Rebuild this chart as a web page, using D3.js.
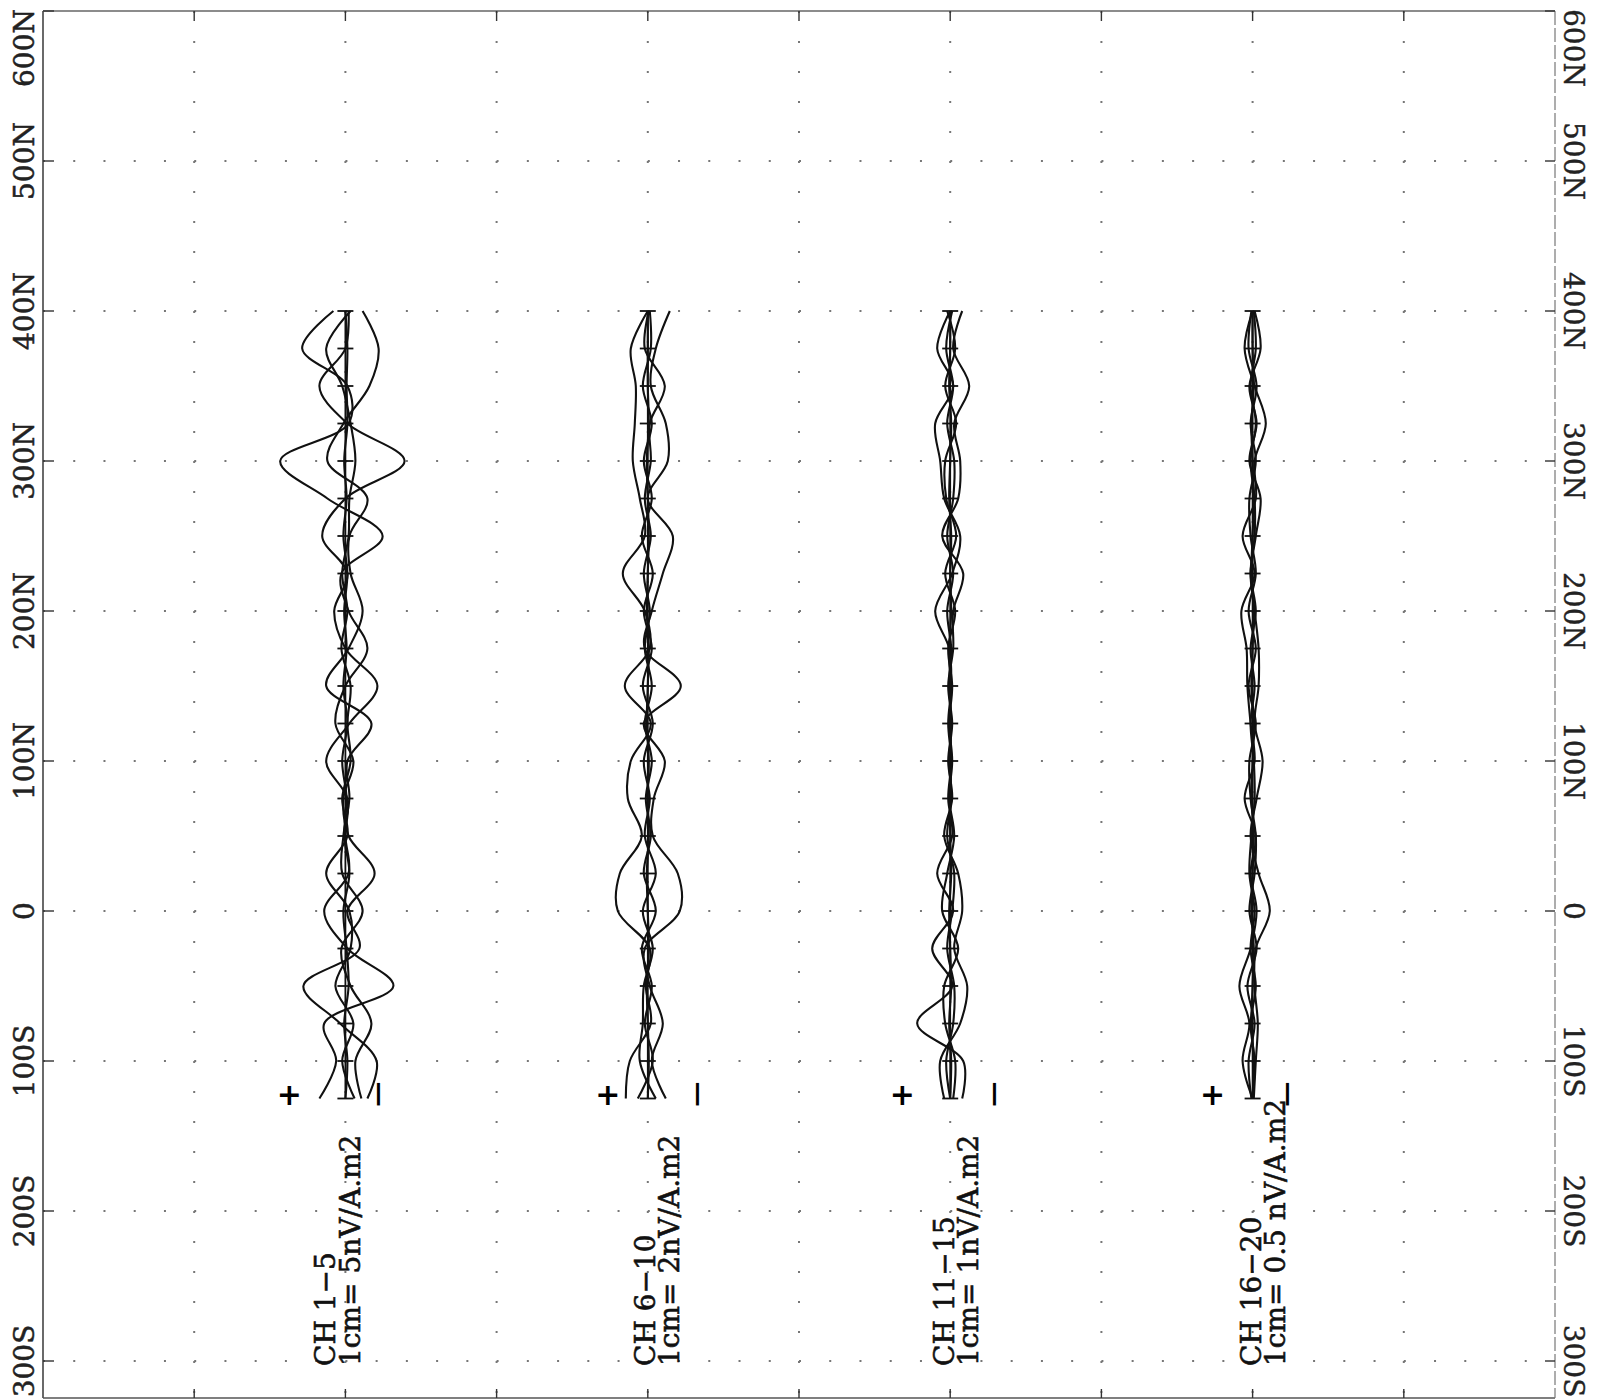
<!DOCTYPE html>
<html>
<head>
<meta charset="utf-8">
<script src="https://cdn.jsdelivr.net/npm/d3@7"></script>
<style>
  body { margin: 0; background: #fff; }
</style>
</head>
<body>
<div id="my_plot"></div>
<script>
// stations along the line (m), negative = south
const stations = [-125,-100,-75,-50,-25,0,25,50,75,100,125,150,175,200,225,250,275,300,325,350,375,400];

const yTicks = [-300,-200,-100,0,100,200,300,400,500,600];
const yTickLabels = ["300S","200S","100S","0","100N","200N","300N","400N","500N","600N"];

const groupNames = ["CH 1\u22125","CH 6\u221210","CH 11\u221215","CH 16\u221220"];
const groupScales = ["1cm= 5nV/A.m2","1cm= 2nV/A.m2","1cm= 1nV/A.m2","1cm= 0.5 nV/A.m2"];
const nvPerCm = [5, 2, 1, 0.5];

// responses in nV/A.m2, one row per channel (positive plots toward "+")
const ch1_5 = [
  [6.5,2.3,5.3,-12,-0.5,5.3,-0.8,0,-0.5,4.8,-1,-8,0,2.8,-0.5,5.8,0,-14.8,-0.5,6.5,0,-0.8],
  [-5.5,-7.8,1.3,10.5,-3.5,-0.5,-7.3,-0.8,0.5,-2,2.5,0,-5.5,-0.8,1,-9.3,4.5,16.3,-0.8,-0.5,10.8,3],
  [-4,-2.5,-6.5,-1.3,1,-4.3,0.8,0.5,-1,-0.5,-6.5,4.8,-0.8,-4.3,-1.3,-1,-5.5,4.5,0.5,-6,-8.3,-4.3],
  [-2.3,0.8,-2,2.5,-1.3,-1,4.8,-0.5,0.8,-1.3,-0.5,-1.3,1,-0.5,0.8,-0.8,-1,-2.5,-1.3,0.8,4.8,-1.3],
  [0,-0.5,0.3,-0.8,-0.3,0.5,-1,0.3,-0.3,0.8,-0.5,0.5,-0.3,0.3,-0.5,0.5,-0.3,0.3,-0.5,-0.3,-0.5,0]
];
const ch6_10 = [
  [2.2,1.8,-0.3,0.2,-0.2,3,2.8,0.6,2,1.7,-0.3,2.3,-0.2,0.3,2.5,0.3,0.8,1.5,1.3,1.2,1.7,0],
  [-1.8,-0.4,-1.5,-0.2,0.3,-3.2,-3,-0.5,-0.6,-1.7,0.4,-3.3,0.3,-0.4,-1.5,-2.5,0,-2,-1.8,-0.3,-0.8,-2.2],
  [-0.8,0.8,0.5,0.4,-0.5,0.5,-0.8,0.3,-0.2,0.4,-0.5,0.5,-0.4,0.4,-0.5,0.6,-0.4,0.4,-0.4,0.5,-0.3,-0.2],
  [1,-0.5,0.3,-0.4,0.6,-0.8,0.4,-0.3,0.2,-0.4,0.3,-0.4,0.3,-0.2,0.4,-0.3,0.3,-0.3,-0.2,-1.7,0.3,-0.1],
  [0,-0.1,0,0.1,-0.1,0,0.1,-0.1,0,-0.1,0.1,0,-0.1,0.1,0,-0.1,0,0.1,-0.1,0,0,0]
];
const ch11_15 = [
  [-0.6,-0.65,1.65,-0.1,0.9,-0.15,0.65,-0.1,0.1,-0.05,0.1,-0.05,0.05,0.75,-0.1,-0.5,0.3,0.5,0.75,-0.15,0.65,0],
  [0.3,0.5,-0.5,-0.85,-0.2,-0.6,-0.4,0.3,-0.1,0.1,-0.1,0.1,-0.15,-0.15,-0.65,0.4,-0.4,-0.5,-0.2,-0.95,-0.15,-0.6],
  [-0.15,-0.25,0.25,0.3,-0.4,0.4,0.15,-0.2,0.05,-0.1,0.05,-0.1,0.1,-0.25,0.25,-0.3,0.2,0.25,-0.3,0.25,-0.25,0.15],
  [0,0.2,-0.15,-0.2,0.15,-0.1,-0.2,0.15,-0.05,0.05,-0.05,0.05,-0.05,0.15,-0.15,0.15,-0.15,-0.2,0.15,-0.15,0.2,-0.1],
  [0,-0.05,0.05,-0.05,0,0.05,-0.05,0,0,-0.05,0,0,0.05,-0.05,0,-0.05,0.05,0,-0.05,0.05,0,0]
];
const ch16_20 = [
  [0,0.25,0.08,0.33,0.05,-0.1,0.05,-0.08,0.2,-0.05,0.05,0.13,0.15,0.28,-0.05,0.25,-0.08,-0.05,-0.33,-0.05,0.2,0],
  [-0.03,-0.08,-0.13,-0.05,-0.08,-0.43,-0.15,0.05,-0.1,-0.25,-0.05,-0.15,-0.15,-0.05,0.05,-0.08,-0.2,0.08,-0.1,0.08,-0.2,-0.05],
  [0.03,0.1,-0.05,0.13,-0.1,0.08,-0.05,-0.08,0.05,0.08,-0.08,0.1,-0.08,0.1,-0.08,0.05,0.08,-0.08,0.05,-0.1,0.1,0.03],
  [0,-0.05,0.05,-0.08,0.05,-0.05,0.08,0.03,-0.05,-0.03,0.05,-0.05,0.05,-0.08,0.05,-0.05,-0.05,0.05,-0.08,0.05,-0.08,-0.03],
  [0,-0.03,0.03,0,-0.03,0.03,0,-0.03,0.03,0,-0.03,0.03,0,-0.03,0.03,0,-0.03,0,0.03,-0.03,0,0]
];
const groups = [ch1_5, ch6_10, ch11_15, ch16_20];

// page layout
const width = 1598, height = 1400;
const frame = {left: 43, right: 1555, top: 11, bottom: 1398};
const pxPerCm = 20;
const groupColumn = [2, 4, 6, 8];
// label / sign placement per group (px from the group's zero line)
const labelShift = [[-10, 15], [7, 31], [4, 28], [8, 32]];
const signShift = [[-56, 34], [-40, 51], [-48, 45], [-40, 36]];

const svg = d3.select("#my_plot")
  .append("svg")
    .attr("width", width)
    .attr("height", height)
    .style("font-family", "'DejaVu Serif', serif");

const y = d3.scaleLinear().domain([-300, 600]).range([1361, frame.top]);
const x = d3.scaleLinear().domain([0, 10]).range([frame.left, frame.right]);

// dotted grid
const gridCols = d3.range(1, 10);
svg.append("g").selectAll("line")
  .data(gridCols)
  .join("line")
    .attr("x1", d => x(d)).attr("x2", d => x(d))
    .attr("y1", frame.top).attr("y2", frame.bottom)
    .attr("stroke", "#777").attr("stroke-width", 2)
    .attr("stroke-dasharray", `2,${y(0) - y(20) - 2}`);

svg.append("g").selectAll("line")
  .data(yTicks.filter(d => d < 600))
  .join("line")
    .attr("x1", frame.left).attr("x2", frame.right)
    .attr("y1", d => y(d)).attr("y2", d => y(d))
    .attr("stroke", "#777").attr("stroke-width", 2)
    .attr("stroke-dasharray", `2,${x(0.2) - x(0) - 2}`);

// frame
const fr = svg.append("g").attr("fill", "none");
fr.append("line").attr("x1", frame.left).attr("x2", frame.left).attr("y1", frame.top).attr("y2", frame.bottom)
  .attr("stroke", "#444").attr("stroke-width", 1.6);
fr.append("line").attr("x1", frame.left).attr("x2", frame.right).attr("y1", frame.bottom).attr("y2", frame.bottom)
  .attr("stroke", "#555").attr("stroke-width", 1.6);
fr.append("line").attr("x1", frame.left).attr("x2", frame.right).attr("y1", frame.top).attr("y2", frame.top)
  .attr("stroke", "#666").attr("stroke-width", 1.4);
fr.append("line").attr("x1", frame.right).attr("x2", frame.right).attr("y1", frame.top).attr("y2", frame.bottom)
  .attr("stroke", "#777").attr("stroke-width", 1.2).attr("stroke-dasharray", "14,3");

// ticks
const tk = svg.append("g").attr("stroke", "#333").attr("stroke-width", 1.4);
tk.selectAll(".tl").data(yTicks).join("line").attr("class", "tl")
  .attr("x1", frame.left).attr("x2", frame.left + 11)
  .attr("y1", d => y(d)).attr("y2", d => y(d));
tk.selectAll(".tr").data(yTicks).join("line").attr("class", "tr")
  .attr("x1", frame.right - 10).attr("x2", frame.right)
  .attr("y1", d => y(d)).attr("y2", d => y(d));
tk.selectAll(".tt").data(gridCols).join("line").attr("class", "tt")
  .attr("x1", d => x(d)).attr("x2", d => x(d))
  .attr("y1", frame.top).attr("y2", frame.top + 10);
tk.selectAll(".tb").data(gridCols).join("line").attr("class", "tb")
  .attr("x1", d => x(d)).attr("x2", d => x(d))
  .attr("y1", frame.bottom - 9).attr("y2", frame.bottom);

// station labels, both sides
const labelY = d => Math.max(y(d), 48);
svg.append("g").selectAll("text")
  .data(yTicks)
  .join("text")
    .attr("transform", d => `translate(34,${labelY(d)}) rotate(-90)`)
    .attr("text-anchor", "middle")
    .attr("font-size", 28)
    .attr("fill", "#222").attr("stroke", "#222").attr("stroke-width", 0.5)
    .text((d, i) => yTickLabels[i]);

svg.append("g").selectAll("text")
  .data(yTicks)
  .join("text")
    .attr("transform", d => `translate(1564,${labelY(d)}) rotate(90)`)
    .attr("text-anchor", "middle")
    .attr("font-size", 28)
    .attr("fill", "#222").attr("stroke", "#222").attr("stroke-width", 0.4)
    .text((d, i) => yTickLabels[i]);

// channel groups
groups.forEach(function(series, gi) {
  const bx = x(groupColumn[gi]);
  const amp = d3.scaleLinear()
    .domain([-nvPerCm[gi], nvPerCm[gi]])
    .range([bx + pxPerCm, bx - pxPerCm]);

  const g = svg.append("g");

  // zero line with station crosses
  g.append("line")
    .attr("x1", bx).attr("x2", bx)
    .attr("y1", y(stations[0])).attr("y2", y(stations[stations.length - 1]))
    .attr("stroke", "#111").attr("stroke-width", 1.8);
  g.selectAll(".cross")
    .data(stations)
    .join("line")
      .attr("class", "cross")
      .attr("x1", bx - 8).attr("x2", bx + 8)
      .attr("y1", d => y(d)).attr("y2", d => y(d))
      .attr("stroke", "#111").attr("stroke-width", 1.8);

  const line = d3.line()
    .x(d => amp(d))
    .y((d, i) => y(stations[i]))
    .curve(d3.curveCatmullRom.alpha(0.5));

  g.selectAll(".trace")
    .data(series)
    .join("path")
      .attr("class", "trace")
      .attr("d", d => line(d))
      .attr("fill", "none")
      .attr("stroke", "#111")
      .attr("stroke-width", 2.1);

  // + / - side markers
  const sy = y(-122);
  g.append("text")
    .attr("x", bx + signShift[gi][0]).attr("y", sy)
    .attr("text-anchor", "middle")
    .attr("dominant-baseline", "central")
    .attr("font-family", "'DejaVu Sans', sans-serif")
    .attr("font-size", 30).attr("font-weight", "bold")
    .text("+");
  g.append("text")
    .attr("transform", `translate(${bx + signShift[gi][1]},${sy}) rotate(90)`)
    .attr("text-anchor", "middle")
    .attr("dominant-baseline", "central")
    .attr("font-family", "'DejaVu Sans', sans-serif")
    .attr("font-size", 36)
    .text("\u2212");

  // captions
  g.append("text")
    .attr("transform", `translate(${bx + labelShift[gi][0]},1366) rotate(-90)`)
    .attr("font-size", 28).attr("fill", "#111").attr("stroke", "#111").attr("stroke-width", 0.6)
    .text(groupNames[gi]);
  g.append("text")
    .attr("transform", `translate(${bx + labelShift[gi][1]},1366) rotate(-90)`)
    .attr("font-size", 28).attr("fill", "#111").attr("stroke", "#111").attr("stroke-width", 0.6)
    .text(groupScales[gi]);
});
</script>
</body>
</html>
